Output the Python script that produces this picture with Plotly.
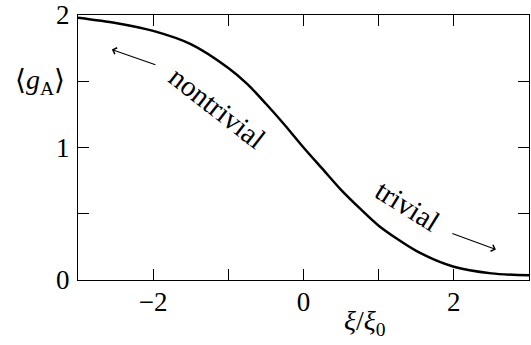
import plotly.graph_objects as go

# curve
xi = [-3.0, -2.5, -2.0, -1.5, -1.0, -0.75, -0.5, -0.25, 0.0,
      0.25, 0.5, 0.75, 1.0, 1.5, 2.0, 2.5, 3.0]
g_a = [1.98, 1.94, 1.88, 1.78, 1.60, 1.48, 1.33, 1.17, 1.0,
       0.84, 0.68, 0.54, 0.41, 0.22, 0.10, 0.05, 0.035]

x_ticks = [-3, -2, -1, 0, 1, 2, 3]
x_labels = ["", "\u22122", "", "0", "", "2", ""]
y_ticks = [0, 0.5, 1, 1.5, 2]
y_labels = ["0", "", "1", "", "2"]

FONT = "Liberation Serif, DejaVu Serif, serif"

fig = go.Figure()
fig.add_trace(go.Scatter(x=xi, y=g_a, mode="lines",
                         line=dict(color="black", width=2.5, shape="spline", smoothing=0.8),
                         showlegend=False, hoverinfo="skip"))

axis_common = dict(showgrid=False, zeroline=False, showline=True, linecolor="black",
                   linewidth=1.2, mirror="ticks", ticks="inside", ticklen=11,
                   tickcolor="black", tickwidth=1.2, automargin=False,
                   tickfont=dict(family=FONT, size=27, color="black"))

fig.update_xaxes(range=[-3, 3], tickvals=x_ticks, ticktext=x_labels,
                 ticklabelstandoff=-3, **axis_common)
fig.update_yaxes(range=[0, 2], tickvals=y_ticks, ticktext=y_labels,
                 ticklabelstandoff=2, **axis_common)

# axis labels
fig.add_annotation(x=-3, y=1.5, xref="x", yref="y", xanchor="right", xshift=-11,
                   text="\u27e8<i>g</i><sub>A</sub>\u27e9", showarrow=False,
                   font=dict(family=FONT, size=28, color="black"))
fig.add_annotation(x=0.82, y=0, xref="x", yref="y", yanchor="middle", yshift=-42,
                   text="<i>\u03be</i>/<i>\u03be</i><sub>0</sub>", showarrow=False,
                   font=dict(family=FONT, size=28, color="black"))

# phase labels and arrows
fig.add_annotation(x=-1.14, y=1.30, text="nontrivial", showarrow=False, textangle=38,
                   font=dict(family=FONT, size=29, color="black"))
fig.add_annotation(x=1.39, y=0.56, text="trivial", showarrow=False, textangle=32,
                   font=dict(family=FONT, size=29, color="black"))
fig.add_annotation(x=-2.55, y=1.74, ax=-1.95, ay=1.62, xref="x", yref="y",
                   axref="x", ayref="y", text="", showarrow=True,
                   arrowhead=4, arrowsize=1.2, arrowwidth=1.1, arrowcolor="black")
fig.add_annotation(x=2.56, y=0.23, ax=1.96, ay=0.355, xref="x", yref="y",
                   axref="x", ayref="y", text="", showarrow=True,
                   arrowhead=4, arrowsize=1.2, arrowwidth=1.1, arrowcolor="black")

fig.update_layout(width=531, height=345, margin=dict(l=78, r=2, t=15, b=65),
                  plot_bgcolor="white", paper_bgcolor="white")
# page body has a default 8px margin, drop it so the figure sits at the corner
fig.write_html("out.html", config={"displayModeBar": False},
               post_script="document.body.style.margin = '0';")
